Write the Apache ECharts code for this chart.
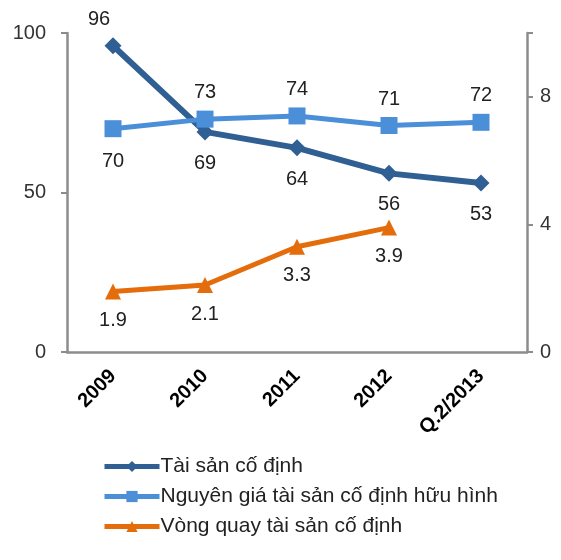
<!DOCTYPE html>
<html>
<head>
<meta charset="utf-8">
<script src="https://cdn.jsdelivr.net/npm/echarts@6/dist/echarts.min.js"></script>
<style>
  html,body{margin:0;padding:0;background:#fff;}
  #chart{width:561px;height:560px;}
</style>
</head>
<body>
<div id="chart"></div>
<script>
// categories and values
const categories = ['2009', '2010', '2011', '2012', 'Q.2/2013']
const taiSan = [96, 69, 64, 56, 53]
const nguyenGia = [70, 73, 74, 71, 72]
const vongQuay = [1.9, 2.1, 3.3, 3.9, null]

const chart = echarts.init(document.getElementById('chart'))
const font = 'Liberation Sans, Arial, sans-serif'
const axisGray = '#8c8c8c'

const option = {
  animation: false,
  textStyle: { fontFamily: font },
  grid: { left: 67, right: 34, top: 33, height: 319 },
  legend: {
    orient: 'vertical',
    left: 97,
    top: 451,
    itemGap: 9,
    itemWidth: 55,
    itemHeight: 14,
    lineStyle: { width: 5 },
    textStyle: { fontSize: 21, color: '#222', fontFamily: font, padding: [0, 0, 0, -4] },
    data: ['Tài sản cố định', 'Nguyên giá tài sản cố định hữu hình', 'Vòng quay tài sản cố định']
  },
  xAxis: {
    type: 'category',
    data: categories,
    boundaryGap: true,
    axisLine: { lineStyle: { color: axisGray, width: 2.5 } },
    axisTick: { show: false },
    axisLabel: {
      rotate: 45,
      color: '#000',
      fontWeight: 'bold',
      fontSize: 20,
      margin: 21,
      interval: 0
    }
  },
  yAxis: [
    {
      type: 'value',
      min: 0, max: 100, interval: 50,
      splitLine: { show: false },
      axisLine: { show: true, lineStyle: { color: axisGray, width: 2.5 } },
      axisTick: { show: true, length: 6, lineStyle: { color: axisGray, width: 2 } },
      axisLabel: { fontSize: 20, color: '#333', margin: 21 }
    },
    {
      type: 'value',
      min: 0, max: 10, interval: 4,
      splitLine: { show: false },
      axisLine: { show: true, lineStyle: { color: axisGray, width: 2.5 } },
      axisTick: { show: true, length: 6, lineStyle: { color: axisGray, width: 2 } },
      axisLabel: { fontSize: 20, color: '#333', margin: 13,
        formatter: v => (v > 8 ? '' : v) }
    }
  ],
  series: [
    {
      name: 'Tài sản cố định',
      type: 'line',
      data: taiSan,
      yAxisIndex: 0,
      symbol: 'diamond',
      symbolSize: 17,
      color: '#2f5f93',
      lineStyle: { width: 6 },
      label: {
        show: true, position: 'bottom', distance: 13,
        fontSize: 20, color: '#222'
      }
    },
    {
      name: 'Nguyên giá tài sản cố định hữu hình',
      type: 'line',
      data: nguyenGia,
      yAxisIndex: 0,
      symbol: 'rect',
      symbolSize: 17,
      color: '#4a8fd8',
      lineStyle: { width: 5 },
      label: {
        show: true, position: 'top', distance: 8,
        fontSize: 20, color: '#222'
      }
    },
    {
      name: 'Vòng quay tài sản cố định',
      type: 'line',
      data: vongQuay,
      yAxisIndex: 1,
      symbol: 'triangle',
      symbolSize: 16,
      color: '#e46c0a',
      lineStyle: { width: 5 },
      label: {
        show: true, position: 'bottom', distance: 11,
        fontSize: 20, color: '#222'
      }
    }
  ]
}

// a few labels sit on the other side of their point
option.series[0].data = taiSan.map((v, i) => i === 0
  ? { value: v, label: { position: 'top', distance: 8, offset: [-14, 0] } } : v)
option.series[1].data = nguyenGia.map((v, i) => i === 0
  ? { value: v, label: { position: 'bottom', distance: 14 } } : v)

chart.setOption(option)
</script>
</body>
</html>
